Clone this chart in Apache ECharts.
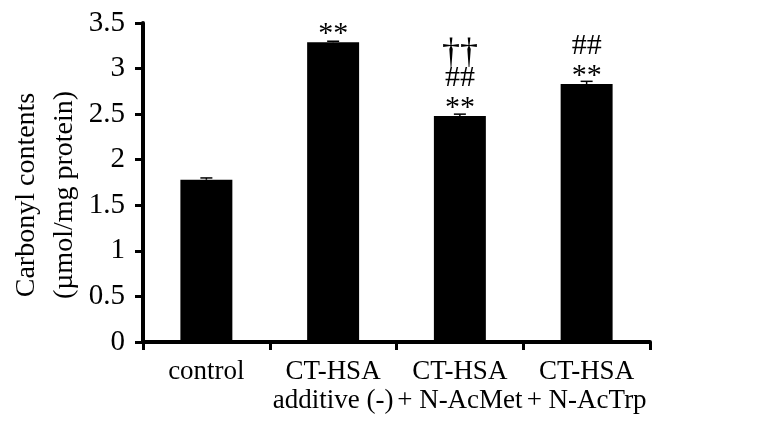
<!DOCTYPE html>
<html>
<head>
<meta charset="utf-8">
<script src="https://cdn.jsdelivr.net/npm/echarts@6/dist/echarts.min.js"></script>
<style>
  html, body { margin: 0; padding: 0; background: #fff; }
  #chart { width: 782px; height: 433px; }
</style>
</head>
<body>
<div id="chart"></div>
<script>
// Groups along the x axis
const categories = ['control', 'CT-HSA\nadditive (-)', 'CT-HSA\n+ N-AcMet', 'CT-HSA\n+ N-AcTrp'];
// Mean carbonyl content per group (µmol/mg protein)
const carbonyl = [1.78, 3.29, 2.48, 2.83];
// Error (upper whisker length)
const carbonylErr = [0.02, 0.01, 0.02, 0.03];
// Significance marks above each bar (top line first)
const marks = ['', '**', '\u2020\u2020\n##\n**', '##\n**'];
// Y axis ticks
const yTicks = { min: 0, max: 3.5, step: 0.5 };

const FONT = '"Liberation Serif", "Times New Roman", serif';

// Dagger lines get a slightly larger glyph style
function markText(s) {
  return s.split('\n').map(line =>
    line.indexOf('\u2020') >= 0 ? '{d|' + line + '}' : '{m|' + line + '}'
  ).join('\n');
}

const chart = echarts.init(document.getElementById('chart'), null, { renderer: 'canvas' });

chart.setOption({
  backgroundColor: '#ffffff',
  animation: false,
  grid: { left: 143, right: 132, top: 23, bottom: 91 },
  xAxis: {
    type: 'category',
    data: categories,
    axisLine: { lineStyle: { color: '#000', width: 4 } },
    axisTick: { show: true, length: 8, lineStyle: { color: '#000', width: 3 } },
    axisLabel: {
      color: '#000', fontFamily: FONT, fontSize: 27, lineHeight: 29,
      margin: 15, interval: 0
    }
  },
  yAxis: {
    type: 'value',
    min: yTicks.min, max: yTicks.max, interval: yTicks.step,
    splitLine: { show: false },
    axisLine: { show: true, lineStyle: { color: '#000', width: 4 } },
    axisTick: { show: true, length: 8, lineStyle: { color: '#000', width: 3 } },
    axisLabel: { color: '#000', fontFamily: FONT, fontSize: 29, margin: 18 }
  },
  graphic: [{
    type: 'text',
    x: 46, y: 195,
    rotation: Math.PI / 2,
    style: {
      text: 'Carbonyl contents\n(\u00b5mol/mg protein)',
      font: '28px ' + FONT,
      lineHeight: 38,
      fill: '#000',
      align: 'center',
      verticalAlign: 'middle'
    }
  }],
  series: [
    {
      type: 'bar',
      data: carbonyl,
      barWidth: '41%',
      itemStyle: { color: '#000' },
      label: {
        show: true,
        position: 'top',
        distance: -7,
        color: '#000',
        align: 'center',
        formatter: p => markText(marks[p.dataIndex]),
        rich: {
          m: { fontFamily: FONT, fontSize: 30, lineHeight: 30, color: '#000' },
          d: { fontFamily: FONT, fontSize: 36, lineHeight: 18, color: '#000' }
        }
      },
      z: 2
    },
    {
      type: 'custom',
      data: carbonyl.map((v, i) => [i, v, v + carbonylErr[i]]),
      renderItem: (params, api) => {
        const base = api.coord([api.value(0), api.value(1)]);
        const top = api.coord([api.value(0), api.value(2)]);
        const half = 6;
        return {
          type: 'group',
          children: [
            { type: 'line', shape: { x1: base[0], y1: base[1], x2: top[0], y2: top[1] },
              style: { stroke: '#000', lineWidth: 1.5 } },
            { type: 'line', shape: { x1: top[0] - half, y1: top[1], x2: top[0] + half, y2: top[1] },
              style: { stroke: '#000', lineWidth: 1.5 } }
          ]
        };
      },
      z: 3
    }
  ]
});
</script>
</body>
</html>
